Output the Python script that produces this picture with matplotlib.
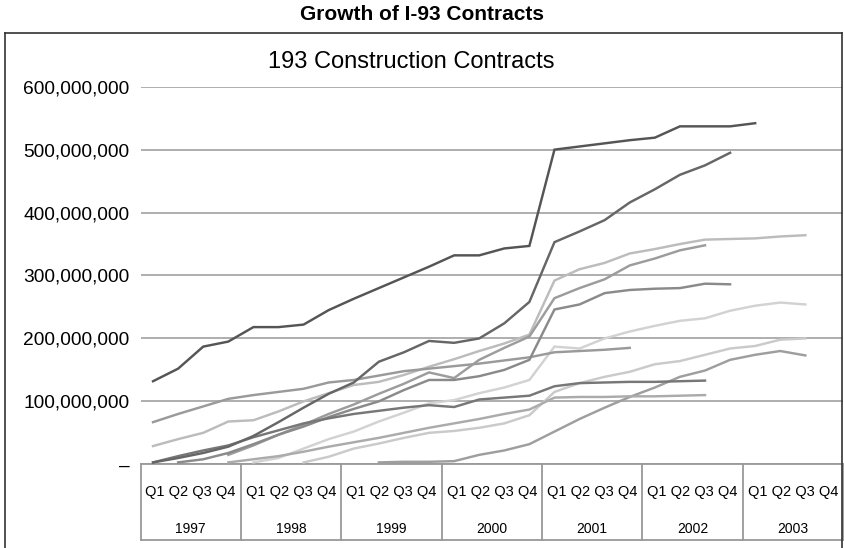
"""Line chart of cumulative I-93 construction contract values by quarter."""

import matplotlib
matplotlib.use("Agg")
import matplotlib.pyplot as plt
from matplotlib.ticker import FuncFormatter, MultipleLocator
from matplotlib.lines import Line2D

plt.rcParams["font.family"] = ["Liberation Sans", "DejaVu Sans"]

years = ["1997", "1998", "1999", "2000", "2001", "2002", "2003"]
quarters = ["Q1", "Q2", "Q3", "Q4"]

# contract values in millions of dollars, one entry per quarter; None = no data
contract_a = [132, 152, 187, 195, 218, 218, 222, 245, 263, 280, 297, 314, 332, 332,
              343, 347, 500, 505, 510, 515, 519, 537, 537, 537, 542]
contract_b = [3, 10, 18, 28, 45, 67, 90, 112, 130, 163, 178, 196, 193, 200, 224, 258,
              353, 370, 388, 416, 437, 460, 475, 495]
contract_c = [29, 40, 50, 68, 70, 84, 100, 113, 126, 131, 142, 155, 167, 180, 192, 206,
              292, 310, 320, 335, 342, 350, 357, 358, 359, 362, 364]
contract_d = [67, 80, 92, 104, 110, 115, 120, 130, 134, 141, 148, 152, 156, 160, 165,
              170, 178, 180, 182, 185]
contract_e = [3, 13, 22, 30, 43, 54, 65, 73, 80, 85, 90, 94, 91, 103, 106, 109, 124,
              129, 130, 131, 131, 132, 133]
contract_f = [None, None, None, 15, 30, 47, 63, 80, 95, 112, 128, 146, 137, 166, 185,
              203, 264, 280, 294, 316, 327, 340, 348]
contract_g = [None, 3, 8, 18, 32, 47, 60, 75, 88, 100, 118, 134, 134, 140, 150, 166,
              246, 254, 272, 277, 279, 280, 287, 286]
contract_h = [None, None, None, None, 3, 10, 25, 40, 52, 68, 82, 97, 102, 113, 122,
              134, 187, 184, 200, 211, 220, 228, 232, 244, 252, 257, 254]
contract_i = [None, None, None, 3, 8, 13, 20, 28, 35, 42, 50, 58, 65, 72, 80, 87, 106,
              107, 107, 108, 108, 109, 110]
contract_j = [None, None, None, None, None, None, 3, 12, 25, 33, 42, 50, 53, 58, 65, 78,
              115, 129, 139, 147, 159, 164, 174, 184, 188, 198, 200]
contract_k = [None, None, None, None, None, None, None, None, None, 3, 4, 4, 5, 15, 22,
              32, 52, 72, 90, 107, 122, 139, 149, 166, 174, 180, 173]

series = [
    (contract_k, "#9e9e9e"),
    (contract_j, "#cacaca"),
    (contract_h, "#d2d2d2"),
    (contract_i, "#ababab"),
    (contract_c, "#bcbcbc"),
    (contract_d, "#9a9a9a"),
    (contract_f, "#9c9c9c"),
    (contract_g, "#8a8a8a"),
    (contract_e, "#777777"),
    (contract_b, "#666666"),
    (contract_a, "#555555"),
]

W, H = 844, 548
fig = plt.figure(figsize=(W / 100, H / 100), dpi=100)

# plot area in pixel terms
left, right, top, bottom = 140.5, 843.0, 86.7, 464.3
ax = fig.add_axes([left / W, 1 - bottom / H, (right - left) / W, (bottom - top) / H])

n_q = len(years) * 4
for values, color in series:
    xs = [i + 0.5 for i, v in enumerate(values) if v is not None]
    ys = [v * 1e6 for v in values if v is not None]
    ax.plot(xs, ys, color=color, lw=1.75, solid_joinstyle="miter", zorder=3)

ax.set_xlim(0, n_q)
ax.set_ylim(0, 600e6)
ax.yaxis.set_major_locator(MultipleLocator(100e6))
ax.yaxis.set_major_formatter(FuncFormatter(lambda v, _: "–" if v == 0 else f"{v:,.0f}"))
ax.tick_params(axis="y", length=0, pad=8, labelsize=13.8)
ax.set_xticks([])
ax.grid(axis="y", color="#a8a8a8", lw=1.3, zorder=1)
for s in ("top", "right", "left"):
    ax.spines[s].set_visible(False)
ax.spines["bottom"].set_color("#999999")
ax.spines["bottom"].set_linewidth(1.3)

# category table under the axis
table_h = (540 - bottom) / (bottom - top)
trans = ax.get_xaxis_transform()
for k in range(len(years) + 1):
    ax.add_line(Line2D([k * 4, k * 4], [0, -table_h], transform=trans, color="#999999",
                       lw=1.3, clip_on=False))
ax.add_line(Line2D([0, n_q], [-table_h, -table_h], transform=trans, color="#999999",
                   lw=1.3, clip_on=False))
for k, yr in enumerate(years):
    ax.text(k * 4 + 2, -(492 - bottom) / (bottom - top), " ".join(quarters),
            transform=trans, ha="center", va="center", fontsize=10.5)
    ax.text(k * 4 + 2, -(529 - bottom) / (bottom - top), yr,
            transform=trans, ha="center", va="center", fontsize=10)

fig.text(411 / W, 1 - 62 / H, "193 Construction Contracts", ha="center", va="center",
         fontsize=17)

# outer frame around the chart and page title
frame_kw = dict(transform=fig.transFigure, color="#333333", lw=1.2)
fig.add_artist(Line2D([5 / W, 5 / W], [0, 1 - 33 / H], **frame_kw))
fig.add_artist(Line2D([5 / W, 842 / W], [1 - 33 / H, 1 - 33 / H], **frame_kw))
fig.add_artist(Line2D([842 / W, 842 / W], [0, 1 - 33 / H], **frame_kw))
fig.text(422 / W, 1 - 15 / H, "Growth of I-93 Contracts", ha="center", va="center",
         fontsize=15, fontweight="bold")

fig.savefig("out.png", dpi=100)
